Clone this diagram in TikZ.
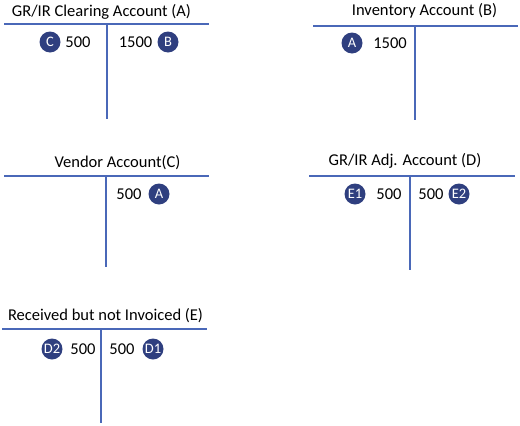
\documentclass[tikz,border=0pt]{standalone}
\usepackage{fontspec}
\setmainfont{Carlito}
\definecolor{tblue}{HTML}{4A68B8}
\definecolor{navy}{HTML}{2F3F7F}
\tikzset{
    tline/.style={draw=tblue, line width=1.1pt},
    title/.style={font=\fontsize{16.5}{18}\selectfont, inner sep=0pt},
    amt/.style={font=\fontsize{16.5}{18}\selectfont, inner sep=0pt},
    tag/.style={circle, fill=navy, text=white, inner sep=0pt, minimum size=21pt,
                font=\fontsize{14.5}{14.5}\selectfont}
}

\begin{document}
\begin{tikzpicture}[x=1pt,y=-1pt]

            \useasboundingbox (0,0) rectangle (520,426);

            % GR/IR clearing account (A)
            \path   (101.5,12) node (ta) [title] {GR/IR Clearing Account (A)}
                    (50,42)    node (ac) [tag] {C}
                    (78,42)    node (aleft) [amt] {500}
                    (135.5,42) node (aright) [amt] {1500}
                    (168,42)   node (ab) [tag] {B};
            \coordinate (a1) at (4,24);   \coordinate (a2) at (209,24);
            \coordinate (a3) at (107,24); \coordinate (a4) at (107,119);
            \draw[tline] (a1) -- (a2);
            \draw[tline] (a3) -- (a4);

            % inventory account (B)
            \path   (424.5,11) node (tb) [title] {Inventory Account (B)}
                    (352,43)   node (ba) [tag] {A}
                    (390,43)   node (bleft) [amt] {1500};
            \coordinate (b1) at (313,26); \coordinate (b2) at (518,26);
            \coordinate (b3) at (415,26); \coordinate (b4) at (415,120);
            \draw[tline] (b1) -- (b2);
            \draw[tline] (b3) -- (b4);

            % vendor account (C)
            \path   (117.5,163) node (tc) [title] {Vendor Account(C)}
                    (129,194)   node (cright) [amt] {500}
                    (159,194)   node (ca) [tag] {A};
            \coordinate (c1) at (4,176);   \coordinate (c2) at (209,176);
            \coordinate (c3) at (106,176); \coordinate (c4) at (106,267);
            \draw[tline] (c1) -- (c2);
            \draw[tline] (c3) -- (c4);

            % GR/IR adj. account (D)
            \path   (405,161) node (td) [title] {GR/IR Adj. Account (D)}
                    (355,194) node (de1) [tag] {E1}
                    (389,194) node (dleft) [amt] {500}
                    (431,194) node (dright) [amt] {500}
                    (459,194) node (de2) [tag] {E2};
            \coordinate (d1) at (309,176); \coordinate (d2) at (515,176);
            \coordinate (d3) at (410,176); \coordinate (d4) at (410,270);
            \draw[tline] (d1) -- (d2);
            \draw[tline] (d3) -- (d4);

            % received but not invoiced (E)
            \path   (105.5,316) node (te) [title] {Received but not Invoiced (E)}
                    (52,349)    node (ed2) [tag] {D2}
                    (83,349)    node (eleft) [amt] {500}
                    (122,349)   node (eright) [amt] {500}
                    (153,349)   node (ed1) [tag] {D1};
            \coordinate (e1) at (2,329);   \coordinate (e2) at (207,329);
            \coordinate (e3) at (101,329); \coordinate (e4) at (101,423);
            \draw[tline] (e1) -- (e2);
            \draw[tline] (e3) -- (e4);

        \end{tikzpicture}
\end{document}
